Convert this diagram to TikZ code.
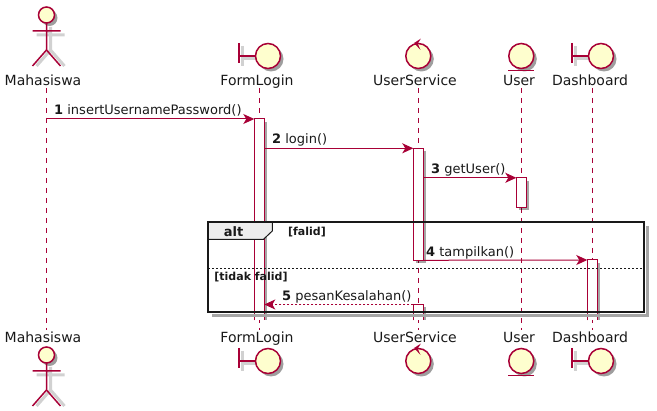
\documentclass[tikz,border=0pt]{standalone}
\usepackage{fontspec}
\setmainfont{DejaVu Sans}
\usetikzlibrary{arrows.meta,positioning,shadows}
\definecolor{umlred}{HTML}{A80036}
\definecolor{umlfill}{HTML}{FEFECE}
\newcommand{\sizeA}{\fontsize{14}{16}\selectfont}
\newcommand{\sizeB}{\fontsize{13}{15}\selectfont}
\newcommand{\sizeC}{\fontsize{11}{13}\selectfont}
\tikzset{
    figline/.style={draw=umlred, line width=1.5pt, fill=umlfill},
    figshade/.style={draw=black!18, line width=3pt},
    ballshade/.style={fill=black!38},
    partname/.style={font=\sizeA, text=black!90, inner sep=0pt, anchor=base},
    lifeline/.style={draw=umlred, line width=0.9pt, dash pattern=on 5pt off 5pt},
    openbar/.style={anchor=north west, inner sep=0pt, outer sep=0pt, minimum width=10pt, fill=white},
    activebar/.style={openbar, drop shadow={shadow xshift=3pt, shadow yshift=-3pt, fill=black, opacity=.35}},
    barline/.style={draw=umlred, line width=1pt},
    barshade/.style={fill=black, opacity=.35},
    msg/.style={draw=umlred, line width=1pt, -{Stealth[length=11pt,width=10pt,inset=3pt]}},
    msgback/.style={msg, dash pattern=on 2pt off 2pt},
    msglabel/.style={font=\sizeB, text=black!90, anchor=base west, inner sep=0pt},
    framelabel/.style={font=\sizeC\bfseries, text=black!90, inner sep=0pt},
    pics/actorfig/.style={code={
        \draw[figshade] (4,31.5) -- (0,31.5) (4,27) -- (4,50) (4,50) -- (-10,66) (4,50) -- (18,66) (-10,35) -- (18,35);
        \fill[ballshade] (3,18) circle (8);
        \draw[figline, fill=none] (0,23) -- (0,50) (-14,31) -- (14,31) (-14,66) -- (0,50) -- (14,66);
        \draw[figline] (0,15) circle (8);
    }},
    pics/boundaryfig/.style={code={
        \draw[figshade] (3,46) -- (3,66) (3,59) -- (20,59);
        \fill[ballshade] (32,59) circle (12.5);
        \draw[figline, fill=none] (0,43) -- (0,63) (0,56) -- (17,56);
        \draw[figline] (29,56) circle (12.5);
    }},
    pics/controlfig/.style={code={
        \fill[ballshade] (3,59) circle (12.5);
        \draw[figline] (0,56) circle (12.5);
        \fill[umlred] (2.6,38.6) -- (-4.2,43) -- (2.2,50) -- (-0.6,43.6) -- cycle;
    }},
    pics/entityfig/.style={code={
        \fill[ballshade] (3,59) circle (12.5);
        \draw[figline] (0,56) circle (12.5);
        \draw[figline, fill=none] (-13,70.7) -- (13,70.7);
    }},
}

\begin{document}
\begin{tikzpicture}[x=1pt, y=-1pt]
    \useasboundingbox (0,0) rectangle (657,411);

    % Lifelines
    \coordinate (mhsTop) at (46.5,88);      \coordinate (mhsEnd) at (46.5,330);
    \coordinate (formTop) at (259.3,88);    \coordinate (formEnd) at (259.3,330);
    \coordinate (svcTop) at (418.3,88);     \coordinate (svcEnd) at (418.3,330);
    \coordinate (userTop) at (521.3,88);    \coordinate (userEnd) at (521.3,330);
    \coordinate (dashTop) at (592.3,88);    \coordinate (dashEnd) at (592.3,330);
    \foreach \a/\b in {mhsTop/mhsEnd, formTop/formEnd, svcTop/svcEnd, userTop/userEnd, dashTop/dashEnd}
        \draw[lifeline] (\a) -- (\b);

    % Figures, top row
    \pic at (46.5,0) {actorfig};
    \pic at (239,0) {boundaryfig};
    \pic at (418.3,0) {controlfig};
    \pic at (521.3,0) {entityfig};
    \pic at (572,0) {boundaryfig};

    % Figures, bottom row
    \pic at (46.5,340) {actorfig};
    \pic at (239,305) {boundaryfig};
    \pic at (418.3,305) {controlfig};
    \pic at (521.3,305) {entityfig};
    \pic at (572,305) {boundaryfig};

    % Names
    \node[partname] (mhsName) at (43,86) {Mahasiswa};
    \node[partname] (formName) at (257,86) {FormLogin};
    \node[partname] (svcName) at (415,86) {UserService};
    \node[partname] (userName) at (519,86) {User};
    \node[partname] (dashName) at (590,86) {Dashboard};
    \node[partname] (mhsNameB) at (43,343) {Mahasiswa};
    \node[partname] (formNameB) at (257,343) {FormLogin};
    \node[partname] (svcNameB) at (415,343) {UserService};
    \node[partname] (userNameB) at (519,343) {User};
    \node[partname] (dashNameB) at (590,343) {Dashboard};

    % Activation bars
    \node[activebar, minimum height=112pt] (barSvc) at (413.3,148.3) {};
    \node[activebar, minimum height=29.5pt] (barUser) at (516.3,177.8) {};
    \node[openbar, minimum height=201.5pt] (barForm) at (254.3,119) {};
    \node[openbar, minimum height=60.5pt] (barDash) at (587.3,260) {};
    \node[openbar, minimum height=16pt] (barSvcB) at (413.3,304.5) {};
    \draw[barline] (barSvc.north west) rectangle (barSvc.south east);
    \draw[barline] (barUser.north west) rectangle (barUser.south east);
    \foreach \b in {barForm, barDash, barSvcB} {
        \fill[barshade] ([yshift=-3pt]\b.north east) rectangle ([xshift=3pt]\b.south east);
        \draw[barline] (\b.south west) |- (\b.north east) -- (\b.south east);
    }

    % Alt frame
    \draw[black!35, line width=3pt] (647,226) -- (647,315.5) -- (212,315.5);
    \node[draw=black!90, line width=2.5pt, anchor=north west, inner sep=0pt, outer sep=0pt,
        minimum width=436pt, minimum height=90pt] (altFrame) at (208,222) {};
    \coordinate (tabA) at (272.3,222);
    \coordinate (tabB) at (272.3,231);
    \coordinate (tabC) at (263.3,239.5);
    \coordinate (tabD) at (208,239.5);
    \coordinate (divider) at (208,269);
    \draw[black!90, line width=1pt, fill=black!7] (altFrame.north west) -- (tabA) -- (tabB) -- (tabC) -- (tabD) -- cycle;
    \draw[black!90, line width=2.5pt] (altFrame.south west) -- (altFrame.north west) -- (altFrame.north east);
    \node[font=\sizeB\bfseries, text=black!90, inner sep=0pt] (altText) at (233.5,232) {alt};
    \node[framelabel] (falidText) at (307,232) {[falid]};
    \draw[black!90, line width=1pt, dash pattern=on 2pt off 2pt] (altFrame.west |- divider) -- (altFrame.east |- divider);
    \node[framelabel] (tidakText) at (251,277) {[tidak falid]};

    % Messages
    \coordinate (mhsSend) at (46.5,119);
    \draw[msg] (mhsSend) -- (barForm.north west);
    \draw[msg] (barForm.east |- barSvc.north) -- (barSvc.north west);
    \draw[msg] (barSvc.east |- barUser.north) -- (barUser.north west);
    \draw[msg] (barSvc.south east) -- (barDash.north west);
    \draw[msgback] (barSvcB.north west) -- (barForm.east |- barSvcB.north);

    % Message labels
    \node[msglabel] (msgOne) at (54,114.5) {\textbf{1} insertUsernamePassword()};
    \node[msglabel] (msgTwo) at (272,144) {\textbf{2} login()};
    \node[msglabel] (msgThree) at (431,173.5) {\textbf{3} getUser()};
    \node[msglabel] (msgFour) at (426,256.5) {\textbf{4} tampilkan()};
    \node[msglabel] (msgFive) at (282,300.5) {\textbf{5} pesanKesalahan()};
\end{tikzpicture}
\end{document}
